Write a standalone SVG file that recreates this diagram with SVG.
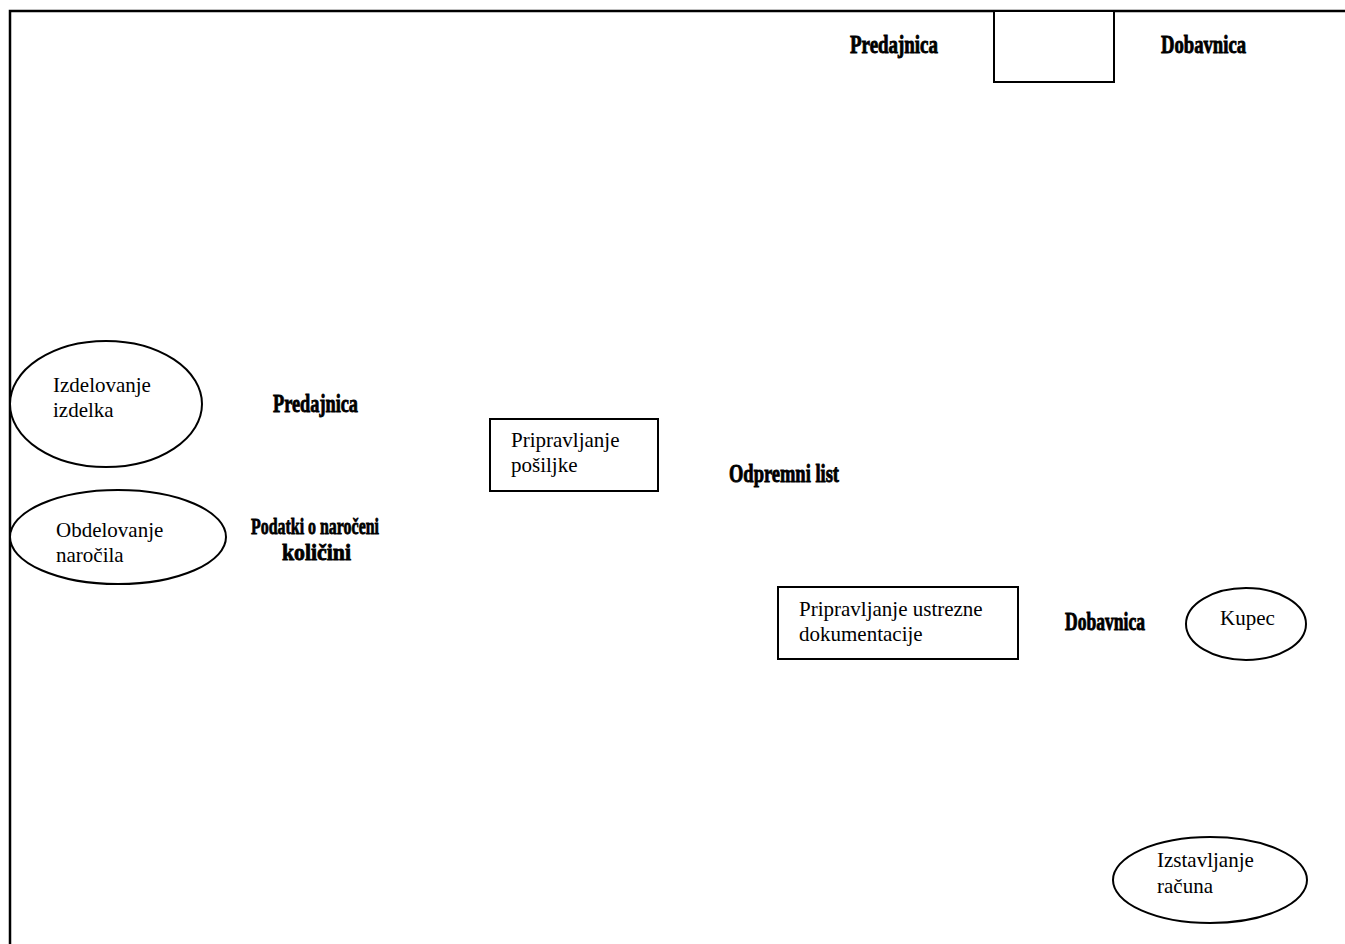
<svg xmlns="http://www.w3.org/2000/svg" width="1345" height="944" viewBox="0 0 1345 944">
  <style>
    .shape { fill: #ffffff; stroke: #000000; stroke-width: 2; }
    .frame { fill: none; stroke: #000000; stroke-width: 2.5; }
    .txt { font-family: "Liberation Serif", "Times New Roman", serif; font-size: 21px; fill: #000000; }
    .lbl { font-family: "Liberation Serif", "Times New Roman", serif; font-size: 26px; font-weight: bold; fill: #000000; stroke: #000000; stroke-width: 0.9; }
    .lbl-sm { font-size: 23px; stroke-width: 0.8; }
  </style>
  <rect x="0" y="0" width="1345" height="944" fill="#ffffff"/>

  <!-- outer border (top and left edges only) -->
  <path class="frame" d="M10,944 V11 H1345"/>

  <!-- flow labels -->
  <g id="connectors">
    <text class="lbl" x="850" y="53" textLength="88" lengthAdjust="spacingAndGlyphs">Predajnica</text>
    <text class="lbl" x="1161" y="53" textLength="85" lengthAdjust="spacingAndGlyphs">Dobavnica</text>
    <text class="lbl" x="273" y="412" textLength="85" lengthAdjust="spacingAndGlyphs">Predajnica</text>
    <text class="lbl lbl-sm" x="251" y="534" textLength="128" lengthAdjust="spacingAndGlyphs">Podatki o naročeni</text>
    <text class="lbl lbl-sm" x="282" y="560" textLength="69" lengthAdjust="spacingAndGlyphs">količini</text>
    <text class="lbl" x="729" y="482" textLength="110" lengthAdjust="spacingAndGlyphs">Odpremni list</text>
    <text class="lbl" x="1065" y="630" textLength="80" lengthAdjust="spacingAndGlyphs">Dobavnica</text>
  </g>

  <g id="store-top">
    <rect class="shape" x="994" y="11" width="120" height="71"/>
  </g>

  <g id="izdelovanje-izdelka">
    <ellipse class="shape" cx="106" cy="404" rx="96" ry="63"/>
    <text class="txt" x="53" y="392">Izdelovanje</text>
    <text class="txt" x="53" y="417">izdelka</text>
  </g>

  <g id="obdelovanje-narocila">
    <ellipse class="shape" cx="118" cy="537" rx="108" ry="47"/>
    <text class="txt" x="56" y="537">Obdelovanje</text>
    <text class="txt" x="56" y="562">naročila</text>
  </g>

  <g id="pripravljanje-posiljke">
    <rect class="shape" x="490" y="419" width="168" height="72"/>
    <text class="txt" x="511" y="447">Pripravljanje</text>
    <text class="txt" x="511" y="472">pošiljke</text>
  </g>

  <g id="pripravljanje-dokumentacije">
    <rect class="shape" x="778" y="587" width="240" height="72"/>
    <text class="txt" x="799" y="616">Pripravljanje ustrezne</text>
    <text class="txt" x="799" y="641">dokumentacije</text>
  </g>

  <g id="kupec">
    <ellipse class="shape" cx="1246" cy="624" rx="60" ry="36"/>
    <text class="txt" x="1220" y="625">Kupec</text>
  </g>

  <g id="izstavljanje-racuna">
    <ellipse class="shape" cx="1210" cy="880" rx="97" ry="43"/>
    <text class="txt" x="1157" y="867">Izstavljanje</text>
    <text class="txt" x="1157" y="893">računa</text>
  </g>
</svg>
